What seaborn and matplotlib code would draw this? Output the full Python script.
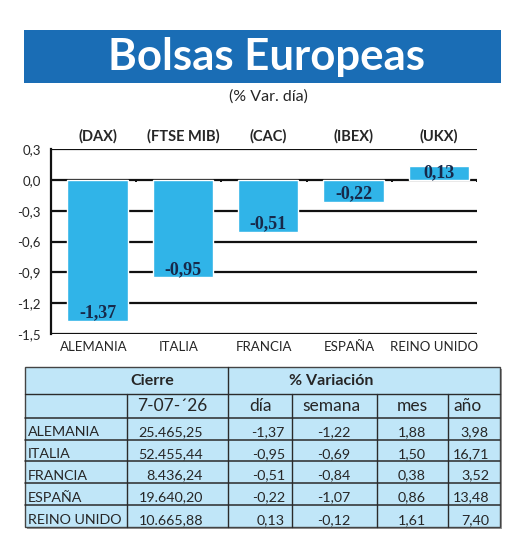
import numpy as np
import matplotlib
matplotlib.use("Agg")
import matplotlib.pyplot as plt
import matplotlib.transforms as mtransforms
from matplotlib.patches import Rectangle
import seaborn as sns

# data
paises = ["ALEMANIA", "ITALIA", "FRANCIA", "ESPAÑA", "REINO UNIDO"]
indices = ["(DAX)", "(FTSE MIB)", "(CAC)", "(IBEX)", "(UKX)"]
var_dia = [-1.37, -0.95, -0.51, -0.22, 0.13]
cierre = [25465.25, 52455.44, 8436.24, 19640.20, 10665.88]
var_semana = [-1.22, -0.69, -0.84, -1.07, -0.12]
var_mes = [1.88, 1.50, 0.38, 0.86, 1.61]
var_anio = [3.98, 16.71, 3.52, 13.48, 7.40]
fecha = "7-07-´26"
yticks = [0.3, 0.0, -0.3, -0.6, -0.9, -1.2, -1.5]

BANNER = "#1a6db5"
BAR = "#30b4e8"
TABLE_BG = "#c0e6f8"
NAVY = "#17294a"

sns.set_style("white")
plt.rcParams["font.family"] = ["Lato", "DejaVu Sans"]


def es_num(v, dec=2):
    s = f"{v:,.{dec}f}"
    return s.replace(",", "X").replace(".", ",").replace("X", ".")


fig = plt.figure(figsize=(5.2, 5.54), dpi=100)

# overlay in pixel coords for banner and table
bg = fig.add_axes([0, 0, 1, 1])
bg.set_xlim(0, 520)
bg.set_ylim(554, 0)
bg.axis("off")

bg.add_patch(Rectangle((24, 30), 477, 53, color=BANNER, lw=0))
bg.text(266, 57, "Bolsas Europeas", color="white", fontsize=31.5, fontweight="bold",
        ha="center", va="center")
bg.text(268, 97, "(% Var. día)", fontsize=11.5, ha="center", va="center")

# chart
ax = fig.add_axes([50.7 / 520, 220 / 554, 426.5 / 520, 185 / 554])
sns.barplot(x=paises, y=var_dia, color=BAR, width=0.71, saturation=1, ax=ax, zorder=3)
for p in ax.patches:
    p.set_x(p.get_x() + 0.05)
ax.set_ylim(-1.5, 0.3)
ax.set_xlim(-0.5, len(paises) - 0.5)
ax.set_yticks(yticks)
ax.set_yticklabels([f"{t:.1f}".replace(".", ",").replace("-0,0", "0,0") for t in yticks],
                   fontsize=9.5)
ax.tick_params(axis="y", length=0, pad=7)
ax.tick_params(axis="x", length=0, pad=5, labelsize=9.5)
for t in yticks:
    ax.axhline(t, color="#111111", lw=1.6, zorder=1)
ax.vlines(np.arange(len(paises)) + 0.5, -0.025, 0, color="#111111", lw=1.4, zorder=2)
for s in ["top", "right", "bottom"]:
    ax.spines[s].set_visible(False)
ax.spines["left"].set_color("#111111")
ax.spines["left"].set_linewidth(1.6)

trans = mtransforms.blended_transform_factory(ax.transData, ax.transAxes)
for i, (lab, v) in enumerate(zip(indices, var_dia)):
    ax.text(i + 0.05, 1.07, lab, transform=trans, ha="center", va="center",
            fontsize=10.5, fontweight="bold")
    yy = v + 0.08 if v < 0 else v - 0.065
    ax.text(i + 0.05, yy, f"{v:.2f}".replace(".", ","), ha="center", va="center",
            fontsize=13, fontweight="bold", color=NAVY, family="Liberation Serif", zorder=4)

# table
cols = [25, 127, 228, 292, 377, 448, 500]
top, h1 = 367, 394
rows = [418, 439.5, 461, 482.5, 504.5, 527]
line = "#2b2b2b"
bg.add_patch(Rectangle((27, top + 2), 475, rows[-1] - top, color="#9a9a9a", lw=0))
bg.add_patch(Rectangle((cols[0], top), cols[-1] - cols[0], rows[-1] - top,
                       facecolor=TABLE_BG, edgecolor="#444444", lw=1.0))
bg.plot([cols[0], cols[-1]], [h1, h1], color=line, lw=1.0)
bg.plot([cols[2], cols[2]], [top, h1], color=line, lw=1.0)
for y in rows[:-1]:
    bg.plot([cols[0], cols[-1]], [y, y], color=line, lw=1.1)
for x in cols[1:-1]:
    bg.plot([x, x], [h1, rows[-1]], color=line, lw=1.0)

bg.text(152, 381, "Cierre", fontsize=11.5, fontweight="bold", ha="center", va="center")
bg.text(331, 381, "% Variación", fontsize=11.5, fontweight="bold", ha="center", va="center")
heads = [fecha, "día", "semana", "mes", "año"]
hx = [172, 260, 331, 412, 468]
for x, t in zip(hx, heads):
    bg.text(x, 406, t, fontsize=12.5, ha="center", va="center")

right_x = [203, 285, 350, 426, 489]
for r in range(len(paises)):
    yb = rows[r + 1] - 3
    bg.text(28, yb, paises[r], fontsize=10.3, ha="left", va="baseline")
    vals = [es_num(cierre[r]), es_num(var_dia[r]), es_num(var_semana[r]),
            es_num(var_mes[r]), es_num(var_anio[r])]
    for x, t in zip(right_x, vals):
        bg.text(x, yb, t, fontsize=10.3, ha="right", va="baseline")

fig.savefig("out.png", dpi=100)
